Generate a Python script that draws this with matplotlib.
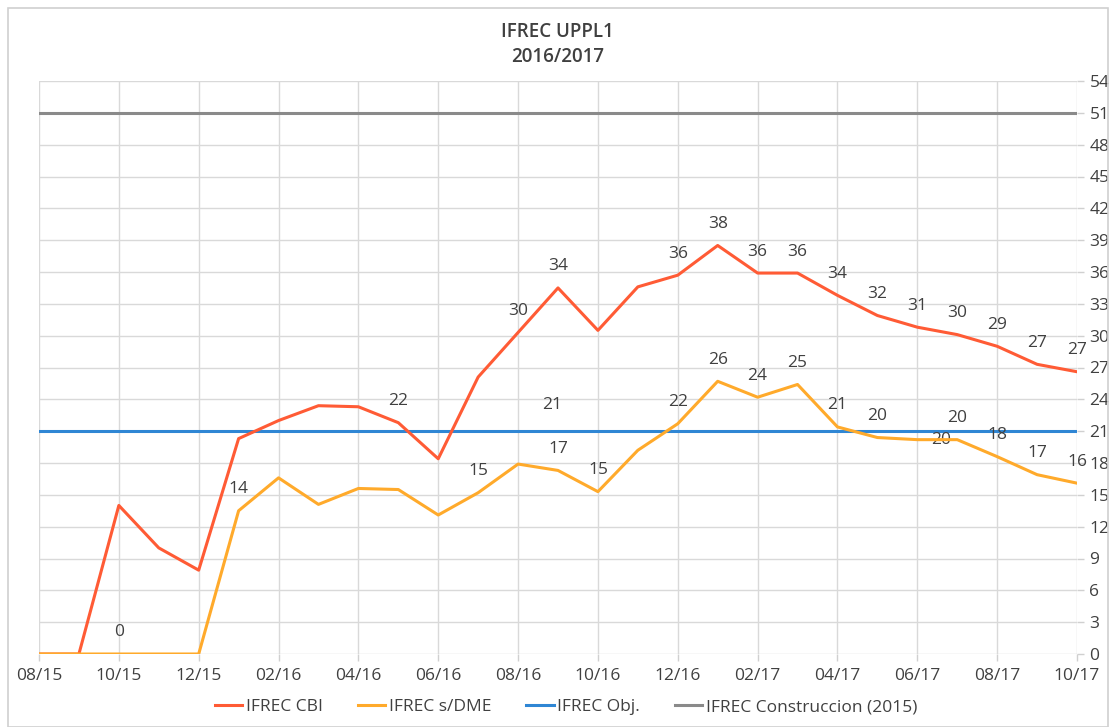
import matplotlib.pyplot as plt
from matplotlib.patches import Rectangle

months = ["08/15", "09/15", "10/15", "11/15", "12/15", "01/16", "02/16", "03/16", "04/16",
          "05/16", "06/16", "07/16", "08/16", "09/16", "10/16", "11/16", "12/16", "01/17",
          "02/17", "03/17", "04/17", "05/17", "06/17", "07/17", "08/17", "09/17", "10/17"]

ifrec_cbi = [0, 0, 14.0, 10.0, 7.9, 20.3, 22.0, 23.4, 23.3, 21.8, 18.4, 26.1, 30.3, 34.5,
             30.5, 34.6, 35.7, 38.5, 35.9, 35.9, 33.8, 31.9, 30.8, 30.1, 29.0, 27.3, 26.6]
ifrec_sdme = [0, 0, 0, 0, 0, 13.5, 16.6, 14.1, 15.6, 15.5, 13.1, 15.2, 17.9, 17.3,
              15.3, 19.2, 21.7, 25.7, 24.2, 25.4, 21.4, 20.4, 20.2, 20.2, 18.6, 16.9, 16.1]
ifrec_obj = [21] * len(months)
ifrec_constr = [51] * len(months)

# data labels shown in the chart: (month index, text)
cbi_labels = [(9, "22"), (12, "30"), (13, "34"), (16, "36"), (17, "38"), (18, "36"),
              (19, "36"), (20, "34"), (21, "32"), (22, "31"), (23, "30"), (24, "29"),
              (25, "27"), (26, "27")]
sdme_labels = [(2, "0"), (5, "14"), (11, "15"), (13, "17"), (14, "15"), (16, "22"),
               (17, "26"), (18, "24"), (19, "25"), (20, "21"), (21, "20"), (22, "20"),
               (23, "20"), (24, "18"), (25, "17"), (26, "16")]
obj_labels = [(13, "21")]

RED = "#FF5B35"
ORANGE = "#FFAA2B"
BLUE = "#2F86D4"
GRAY = "#8A8A8A"
TXT = "#404040"

plt.rcParams["font.family"] = ["Open Sans", "DejaVu Sans"]

fig = plt.figure(figsize=(11.15, 7.27), dpi=100)
ax = fig.add_axes([39 / 1115, 1 - 654 / 727, (1077 - 39) / 1115, (654 - 81) / 727])

x = list(range(len(months)))
ax.plot(x, ifrec_constr, color=GRAY, lw=2.2, label="IFREC Construccion (2015)", zorder=3)
ax.plot(x, ifrec_obj, color=BLUE, lw=2.2, label="IFREC Obj.", zorder=3)
ax.plot(x, ifrec_cbi, color=RED, lw=2.2, label="IFREC CBI", zorder=4)
ax.plot(x, ifrec_sdme, color=ORANGE, lw=2.2, label="IFREC s/DME", zorder=5)

lab_kw = dict(textcoords="offset points", ha="center", va="center", fontsize=12.5, color=TXT)
for i, t in cbi_labels:
    ax.annotate(t, (i, ifrec_cbi[i]), xytext=(0, 15.5), **lab_kw)
for i, t in sdme_labels:
    off = (17, 0) if i == 22 else (0, 15.5)
    ax.annotate(t, (i, ifrec_sdme[i]), xytext=off, **lab_kw)
for i, t in obj_labels:
    ax.annotate(t, (i, ifrec_obj[i]), xytext=(-4, 19), **lab_kw)

ax.set_xlim(0, len(months) - 1)
ax.set_ylim(0, 54)
ax.set_xticks(x[::2])
ax.set_xticklabels(months[::2])
ax.set_yticks(range(0, 55, 3))
ax.yaxis.tick_right()
ax.tick_params(axis="both", colors="#D0D0D0", labelcolor=TXT, labelsize=12.5, length=5, width=1)
ax.tick_params(axis="x", pad=5)
ax.tick_params(axis="y", pad=4)
ax.grid(True, color="#D9D9D9", linewidth=1.0, zorder=0)
for s in ax.spines.values():
    s.set_visible(False)
ax.set_axisbelow(True)

fig.text(0.5, 1 - 32 / 727, "IFREC UPPL1", ha="center", va="center", fontsize=13.5,
         fontweight="semibold", color=TXT)
fig.text(0.5, 1 - 57 / 727, "2016/2017", ha="center", va="center", fontsize=13.5,
         fontweight="semibold", color=TXT)

handles, labels = ax.get_legend_handles_labels()
order = [2, 3, 1, 0]
fig.legend([handles[k] for k in order], [labels[k] for k in order], loc="center",
           bbox_to_anchor=(566 / 1115, 1 - 707 / 727), ncol=4, frameon=False, fontsize=12.5,
           handlelength=1.6, handletextpad=0.2, columnspacing=2.0, labelcolor=TXT)

fig.patches.append(Rectangle((8 / 1115, 0), 1100 / 1115, 1 - 8 / 727, transform=fig.transFigure,
                             fill=False, edgecolor="#D0D0D0", linewidth=1.2))

fig.savefig("out.png", dpi=100)
